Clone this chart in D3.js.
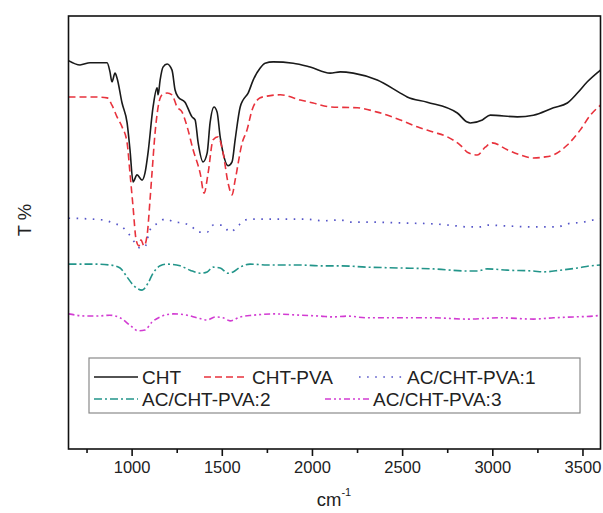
<!DOCTYPE html>
<html>
<head>
<meta charset="utf-8">
<script src="https://cdn.jsdelivr.net/npm/d3@7"></script>
<style>
  html, body { margin: 0; padding: 0; background: #fff; }
  svg { display: block; font-family: "Liberation Sans", Arial, sans-serif; }
</style>
</head>
<body>
<svg id="chart" width="603" height="513"></svg>
<script>
// FTIR spectra: [wavenumber (cm-1), transmittance (arbitrary T %, offset per sample)]
const cht = [
  [650,89.7],[714,88.7],[769,89.2],[864,89.2],[880,87.1],[891,84.8],[908,86.8],[919,85.7],
  [947,79.9],[975,75.3],[991,69.1],[1008,61.7],[1030,63.3],[1058,62.1],[1074,63.7],[1091,68.4],
  [1119,79.0],[1141,83.4],[1147,81.8],[1158,85.2],[1174,88.2],[1197,88.9],[1224,87.5],[1241,82.9],
  [1258,81.3],[1296,80.1],[1335,76.7],[1352,76.0],[1369,70.7],[1396,66.3],[1419,68.4],[1435,75.3],
  [1457,79.0],[1474,77.8],[1491,72.1],[1507,68.4],[1535,65.4],[1557,66.3],[1574,71.4],[1602,79.0],
  [1618,80.6],[1646,82.2],[1674,85.2],[1713,88.0],[1740,89.1],[1785,89.4],[1896,89.1],[1990,88.2],
  [2101,86.8],[2157,87.1],[2229,86.8],[2362,85.2],[2490,82.2],[2528,81.3],[2639,80.1],[2806,77.6],
  [2861,75.5],[2878,75.3],[2945,76.0],[2989,77.1],[3139,76.7],[3228,77.1],[3339,78.8],[3416,79.9],
  [3472,82.2],[3527,84.8],[3600,87.5]
];
const chtPva = [
  [650,81.3],[714,81.3],[786,81.3],[864,81.1],[891,79.4],[919,76.7],[947,74.4],[975,70.7],
  [991,63.7],[1008,55.9],[1025,48.3],[1041,46.9],[1052,48.3],[1069,46.9],[1086,49.4],[1102,57.5],
  [1113,63.7],[1130,73.0],[1147,79.0],[1169,81.8],[1197,82.2],[1224,81.8],[1252,79.0],[1280,77.8],
  [1308,74.4],[1341,69.1],[1380,63.7],[1402,59.1],[1424,63.7],[1452,71.4],[1480,72.1],[1507,68.4],
  [1535,61.4],[1557,58.7],[1574,62.1],[1613,70.7],[1640,73.7],[1668,78.3],[1713,81.1],[1751,81.5],
  [1824,81.8],[1935,80.6],[2007,79.9],[2101,79.0],[2251,78.8],[2362,77.8],[2490,76.0],[2584,74.4],
  [2673,73.2],[2750,72.1],[2822,70.2],[2867,68.4],[2917,67.9],[2961,69.7],[3000,70.7],[3083,69.1],
  [3155,67.9],[3228,67.2],[3283,67.4],[3339,67.9],[3416,70.2],[3488,73.7],[3544,77.1],[3600,79.4]
];
const acChtPva1 = [
  [650,53.3],[841,52.9],[897,52.2],[947,51.3],[980,49.9],[1019,47.6],[1047,46.4],[1074,46.7],
  [1102,50.6],[1147,52.2],[1186,53.1],[1241,52.4],[1285,52.2],[1335,51.3],[1369,50.1],[1419,50.1],
  [1452,51.7],[1502,51.7],[1546,50.1],[1585,51.3],[1629,52.9],[1674,53.1],[1807,53.1],[1962,53.1],
  [2062,52.7],[2157,52.9],[2212,52.4],[2306,52.4],[2490,52.2],[2673,52.0],[2806,51.5],[2861,51.3],
  [2933,51.3],[2978,51.7],[3083,51.5],[3228,51.3],[3361,51.3],[3416,52.0],[3505,52.4],[3561,52.9],
  [3600,53.1]
];
const acChtPva2 = [
  [650,42.7],[786,42.7],[880,42.5],[936,41.8],[975,39.7],[1008,37.9],[1058,36.7],[1091,38.3],
  [1119,40.6],[1158,42.3],[1197,42.7],[1269,42.3],[1324,41.3],[1380,40.6],[1419,40.9],[1452,42.0],
  [1491,41.8],[1535,40.6],[1563,40.9],[1602,42.0],[1657,42.7],[1751,42.5],[1935,42.5],[2046,42.3],
  [2157,42.3],[2306,42.0],[2490,41.8],[2673,41.6],[2861,41.1],[2917,41.1],[2972,41.6],[3083,41.3],
  [3228,41.1],[3283,40.9],[3378,41.3],[3472,41.8],[3544,42.3],[3600,42.5]
];
const acChtPva3 = [
  [650,31.2],[753,30.7],[808,30.7],[880,30.9],[936,30.3],[991,28.6],[1036,27.3],[1074,27.5],
  [1113,29.3],[1158,30.5],[1230,31.2],[1308,30.9],[1363,30.3],[1419,29.8],[1463,30.5],[1507,30.3],
  [1546,29.6],[1602,30.5],[1674,30.9],[1785,31.2],[1935,30.9],[2046,30.7],[2118,30.5],[2195,30.7],
  [2306,30.3],[2490,30.3],[2673,30.3],[2861,30.0],[3044,30.3],[3228,30.0],[3339,30.3],[3450,30.5],
  [3561,30.7],[3600,30.9]
];

const seriesNames = ["CHT", "CHT-PVA", "AC/CHT-PVA:1", "AC/CHT-PVA:2", "AC/CHT-PVA:3"];
const xTicks = [1000, 1500, 2000, 2500, 3000, 3500];
const xMinorTicks = [750, 1250, 1750, 2250, 2750, 3250];

const styles = [
  { color: "#1a1a1a", dash: null,            width: 1.6 },
  { color: "#e8323c", dash: "7,4",           width: 1.6 },
  { color: "#5555c8", dash: "1.6,6.5",       width: 1.7 },
  { color: "#23958a", dash: "8,3,2,3",       width: 1.6 },
  { color: "#d23cd2", dash: "6,3,2,3,2,3",   width: 1.6 }
];
const allSeries = [cht, chtPva, acChtPva1, acChtPva2, acChtPva3];

const svg = d3.select("#chart");
const m = { left: 68.5, top: 16, right: 600.5, bottom: 449 };

const x = d3.scaleLinear().domain([650, 3600]).range([m.left, m.right]);
const y = d3.scaleLinear().domain([0, 100]).range([m.bottom, m.top]);

const line = d3.line()
  .x(d => x(d[0]))
  .y(d => y(d[1]))
  .curve(d3.curveMonotoneX);

svg.append("defs").append("clipPath").attr("id", "plot-clip")
  .append("rect")
  .attr("x", m.left).attr("y", m.top)
  .attr("width", m.right - m.left).attr("height", m.bottom - m.top);

const plot = svg.append("g").attr("clip-path", "url(#plot-clip)");
allSeries.forEach((s, i) => {
  plot.append("path")
    .datum(s)
    .attr("fill", "none")
    .attr("stroke", styles[i].color)
    .attr("stroke-width", styles[i].width)
    .attr("stroke-dasharray", styles[i].dash)
    .attr("stroke-linejoin", "round")
    .attr("d", line);
});

// frame
svg.append("rect")
  .attr("x", m.left).attr("y", m.top)
  .attr("width", m.right - m.left).attr("height", m.bottom - m.top)
  .attr("fill", "none").attr("stroke", "#111").attr("stroke-width", 1.6);

// bottom axis: major + minor ticks
const xAxis = d3.axisBottom(x).tickValues(xTicks).tickSize(7).tickPadding(5).tickFormat(d3.format("d"));
const gx = svg.append("g").attr("transform", `translate(0,${m.bottom})`).call(xAxis);
gx.select(".domain").remove();
gx.selectAll(".tick line").attr("stroke", "#111").attr("stroke-width", 1.6);
gx.selectAll(".tick text").attr("font-size", 16.5).attr("fill", "#222")
  .attr("font-family", "'Liberation Sans', Arial, sans-serif");

const xAxisMinor = d3.axisBottom(x).tickValues(xMinorTicks).tickSize(4).tickFormat("");
const gxm = svg.append("g").attr("transform", `translate(0,${m.bottom})`).call(xAxisMinor);
gxm.select(".domain").remove();
gxm.selectAll(".tick line").attr("stroke", "#111").attr("stroke-width", 1.6);

// axis titles
const xt = svg.append("text")
  .attr("x", 334).attr("y", 506)
  .attr("text-anchor", "middle")
  .attr("font-size", 18.5).attr("fill", "#222");
xt.append("tspan").text("cm");
xt.append("tspan").attr("dy", -10).attr("font-size", 11).text("-1");

svg.append("text")
  .attr("transform", "translate(31,220) rotate(-90)")
  .attr("text-anchor", "middle")
  .attr("font-size", 18.5).attr("fill", "#222")
  .text("T %");

// legend
const lg = svg.append("g");
lg.append("rect")
  .attr("x", 89).attr("y", 358).attr("width", 491).attr("height", 55)
  .attr("fill", "#fff").attr("stroke", "#8a8a8a").attr("stroke-width", 1.2);

const legendItems = [
  { i: 0, x: 94,  y: 377 },
  { i: 1, x: 204, y: 377 },
  { i: 2, x: 359, y: 377 },
  { i: 3, x: 94,  y: 399 },
  { i: 4, x: 325, y: 399 }
];
legendItems.forEach(it => {
  const st = styles[it.i];
  lg.append("line")
    .attr("x1", it.x).attr("x2", it.x + 44)
    .attr("y1", it.y).attr("y2", it.y)
    .attr("stroke", st.color).attr("stroke-width", st.width)
    .attr("stroke-dasharray", st.dash);
  lg.append("text")
    .attr("x", it.x + 48).attr("y", it.y + 6.5)
    .attr("font-size", 19).attr("fill", "#222")
    .text(seriesNames[it.i]);
});
</script>
</body>
</html>
